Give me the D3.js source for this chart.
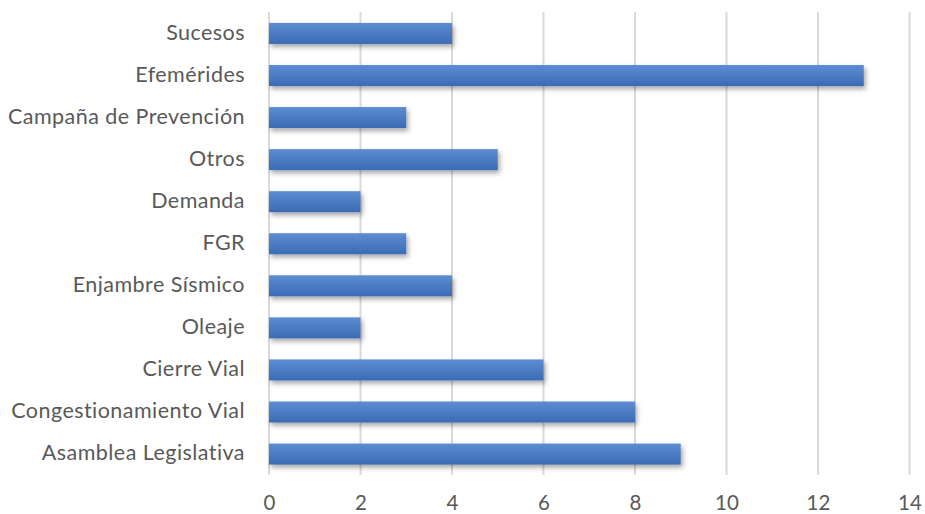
<!DOCTYPE html>
<html><head><meta charset="utf-8">
<script src="https://cdn.jsdelivr.net/npm/d3@7"></script>
<style>body{margin:0;background:#fff}svg{display:block}</style>
</head><body>
<script>
const categories = ["Sucesos","Efemérides","Campaña de Prevención","Otros","Demanda","FGR","Enjambre Sísmico","Oleaje","Cierre Vial","Congestionamiento Vial","Asamblea Legislativa"];
const values = [4,13,3,5,2,3,4,2,6,8,9];
const xTicks = [0,2,4,6,8,10,12,14];

const W=925,H=514;
const svg=d3.select("body").append("svg").attr("width",W).attr("height",H);
const defs=svg.append("defs");
const g=defs.append("linearGradient").attr("id","bg").attr("x1",0).attr("y1",0).attr("x2",0).attr("y2",1);
g.append("stop").attr("offset","0%").attr("stop-color","#5d8dd2");
g.append("stop").attr("offset","100%").attr("stop-color","#3a6bb4");
const f=defs.append("filter").attr("id","sh").attr("x","-5%").attr("y","-30%").attr("width","115%").attr("height","180%");
f.append("feDropShadow").attr("dx",2).attr("dy",3).attr("stdDeviation",2.5).attr("flood-color","#000").attr("flood-opacity",0.35);

const x=d3.scaleLinear().domain([0,14]).range([269,909.5]);
const y=d3.scaleBand().domain(categories).range([12.4,475.1]).paddingInner(0.5).paddingOuter(0.25);

const grid=svg.append("g");
grid.selectAll("line").data(xTicks).join("line")
 .attr("x1",d=>x(d)).attr("x2",d=>x(d)).attr("y1",12).attr("y2",475)
 .attr("stroke","#d9d9d9").attr("stroke-width",2);

svg.append("g").selectAll("rect").data(categories).join("rect")
 .attr("x",x(0)).attr("y",d=>y(d)).attr("height",y.bandwidth())
 .attr("width",(d,i)=>x(values[i])-x(0))
 .attr("fill","url(#bg)").attr("filter","url(#sh)");

const font="Lato, sans-serif";
svg.append("g").selectAll("text").data(categories).join("text")
 .attr("x",245).attr("y",d=>y(d)+y.bandwidth()/2 - 1.5).attr("dy","0.36em")
 .attr("text-anchor","end").attr("font-family",font).attr("font-size",21.5).attr("letter-spacing",0.45).attr("fill","#595959")
 .text(d=>d);

const xa=d3.axisBottom(x).tickValues(xTicks).tickSize(0).tickPadding(0);
const ax=svg.append("g").attr("transform","translate(0,503)").call(xa);
ax.select(".domain").remove();
ax.selectAll("text").attr("dy","0.36em").attr("font-family",font).attr("font-size",20.5).attr("fill","#595959");
</script>
</body></html>
